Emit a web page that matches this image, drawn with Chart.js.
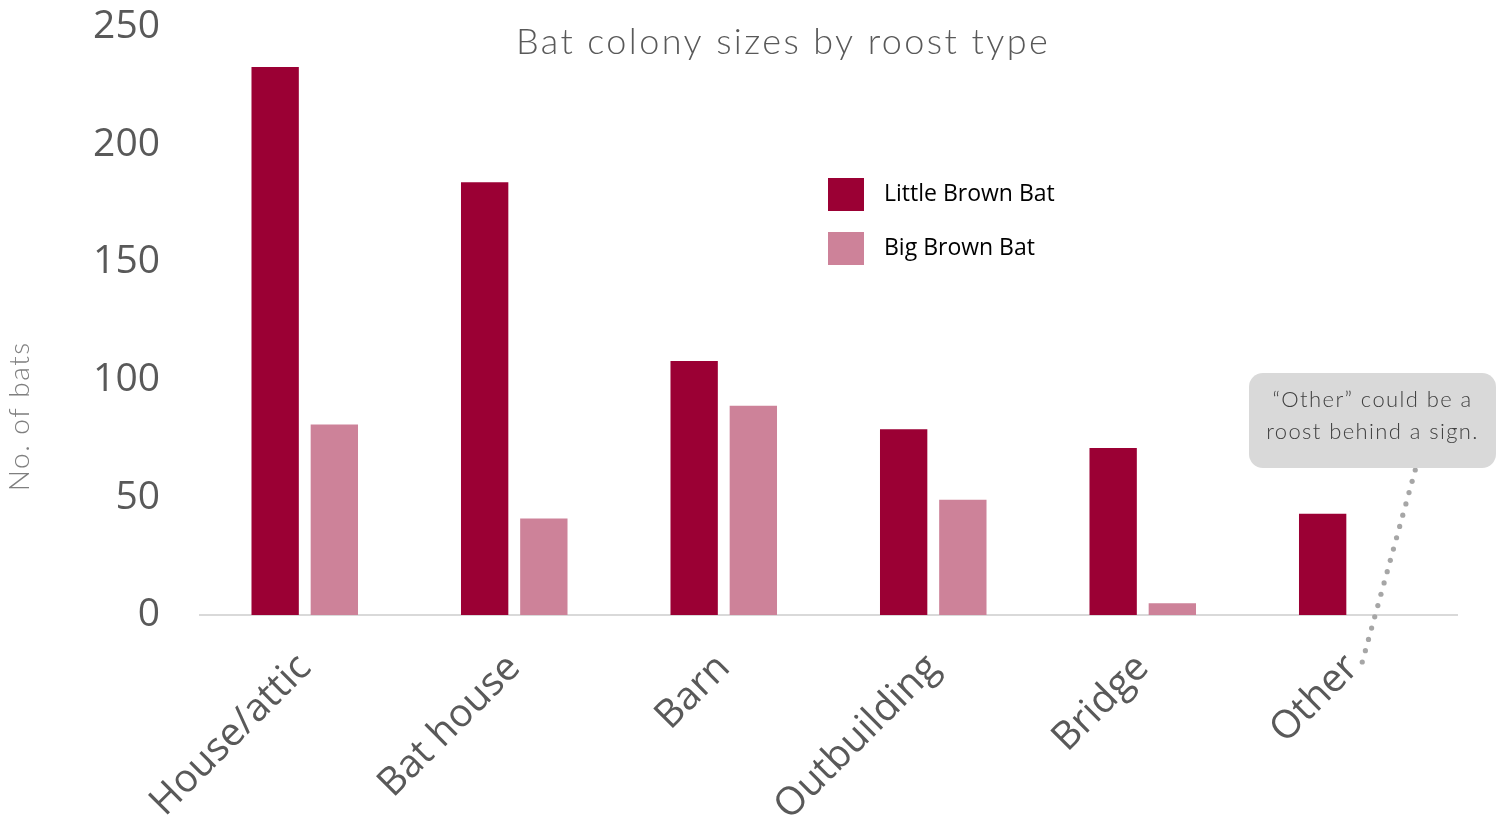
<!DOCTYPE html>
<html>
<head>
<meta charset="utf-8">
<script src="https://cdn.jsdelivr.net/npm/chart.js@4/dist/chart.umd.min.js"></script>
<style>
  html, body { margin: 0; padding: 0; background: #fff; }
  #wrap { width: 1504px; height: 819px; }
</style>
</head>
<body>
<div id="wrap"><canvas id="bat_chart"></canvas></div>
<script>
var roost_types = ['House/attic', 'Bat house', 'Barn', 'Outbuilding', 'Bridge', 'Other'];
var little_brown_bat = [233, 184, 108, 79, 71, 43];
var big_brown_bat = [81, 41, 89, 49, 5, null];
var y_ticks = [0, 50, 100, 150, 200, 250];

var chart_title = 'Bat colony sizes by roost type';
var y_title = 'No. of bats';
var callout_lines = ['\u201cOther\u201d could be a', 'roost behind a sign.'];

// title, y axis title, legend and the callout are drawn by hand
var extrasPlugin = {
    id: 'extras',
    afterDraw: function (chart) {
        var ctx = chart.ctx;
        var xs = chart.scales.x;
        var ys = chart.scales.y;
        ctx.save();

        // title
        ctx.fillStyle = '#595959';
        ctx.font = '300 36px Lato, "DejaVu Sans", sans-serif';
        ctx.letterSpacing = '2.4px';
        ctx.textAlign = 'center';
        ctx.textBaseline = 'middle';
        ctx.fillText(chart_title, 783, 42);

        // y axis title
        ctx.save();
        ctx.translate(20, ys.getPixelForValue(84.5));
        ctx.rotate(-Math.PI / 2);
        ctx.font = '300 28px Lato, "DejaVu Sans", sans-serif';
        ctx.letterSpacing = '1.5px';
        ctx.fillStyle = '#7f7f7f';
        ctx.textAlign = 'center';
        ctx.fillText(y_title, 0, 0);
        ctx.restore();

        // legend
        ctx.letterSpacing = '0px';
        var ds = chart.data.datasets;
        for (var i = 0; i < ds.length; i++) {
            var ly = 194 + i * 54;
            ctx.fillStyle = ds[i].backgroundColor;
            ctx.fillRect(828, ly - 16, 36, 33);
            ctx.fillStyle = '#000';
            ctx.font = '23px "Open Sans", sans-serif';
            ctx.textAlign = 'left';
            ctx.fillText(ds[i].label, 884, ly);
        }

        // dotted leader from the callout down to "Other"
        var ox = xs.getPixelForValue(5);
        ctx.fillStyle = '#a6a6a6';
        var x0 = ox + 63, y0 = 470, x1 = ox + 10, y1 = 662;
        var len = Math.sqrt((x1 - x0) * (x1 - x0) + (y1 - y0) * (y1 - y0));
        var n = Math.round(len / 11.5);
        for (var k = 0; k <= n; k++) {
            var t = k / n;
            ctx.beginPath();
            ctx.arc(x0 + (x1 - x0) * t, y0 + (y1 - y0) * t, 2.6, 0, Math.PI * 2);
            ctx.fill();
        }

        // callout box
        var bx = 1249, by = 373, bw = 247, bh = 95, r = 14;
        ctx.fillStyle = '#d9d9d9';
        ctx.beginPath();
        ctx.moveTo(bx + r, by);
        ctx.arcTo(bx + bw, by, bx + bw, by + bh, r);
        ctx.arcTo(bx + bw, by + bh, bx, by + bh, r);
        ctx.arcTo(bx, by + bh, bx, by, r);
        ctx.arcTo(bx, by, bx + bw, by, r);
        ctx.closePath();
        ctx.fill();
        ctx.fillStyle = '#404040';
        ctx.font = '300 22px Lato, "DejaVu Sans", sans-serif';
        ctx.letterSpacing = '1.4px';
        ctx.textAlign = 'center';
        ctx.fillText(callout_lines[0], bx + bw / 2, 400);
        ctx.fillText(callout_lines[1], bx + bw / 2, 432);

        ctx.restore();
    }
};

function buildBatChart() {
    var ctx = document.getElementById('bat_chart');
    var batChart = new Chart(ctx, {
        type: 'bar',
        data: {
            labels: roost_types,
            datasets: [{
                label: 'Little Brown Bat',
                data: little_brown_bat,
                backgroundColor: '#9b0034'
            }, {
                label: 'Big Brown Bat',
                data: big_brown_bat,
                backgroundColor: '#cd8299'
            }]
        },
        options: {
            responsive: true,
            maintainAspectRatio: false,
            animation: false,
            layout: {
                padding: { top: 27, right: 47, left: 0, bottom: 0 }
            },
            datasets: {
                bar: { categoryPercentage: 0.565, barPercentage: 0.8 }
            },
            plugins: {
                legend: { display: false },
                title: { display: false },
                tooltip: { enabled: false }
            },
            scales: {
                x: {
                    grid: { display: false, drawTicks: false },
                    border: { display: true, color: '#d9d9d9', width: 2 },
                    ticks: {
                        color: '#595959',
                        font: { family: '"Open Sans", sans-serif', size: 39 },
                        minRotation: 45,
                        maxRotation: 45,
                        padding: 30,
                        autoSkip: false
                    },
                    afterFit: function (scale) {
                        scale.height = 204;
                        scale.paddingLeft = 0;
                        scale.paddingRight = 0;
                    }
                },
                y: {
                    min: 0,
                    max: 250,
                    grid: { display: false, drawTicks: false },
                    border: { display: false },
                    afterBuildTicks: function (scale) {
                        scale.ticks = y_ticks.map(function (v) { return { value: v }; });
                    },
                    ticks: {
                        color: '#595959',
                        font: { family: '"Open Sans", sans-serif', size: 39 },
                        padding: 40
                    },
                    afterFit: function (scale) {
                        scale.width = 200;
                        scale.paddingTop = 0;
                        scale.paddingBottom = 0;
                    }
                }
            }
        },
        plugins: [extrasPlugin]
    });
}

buildBatChart();
</script>
</body>
</html>
